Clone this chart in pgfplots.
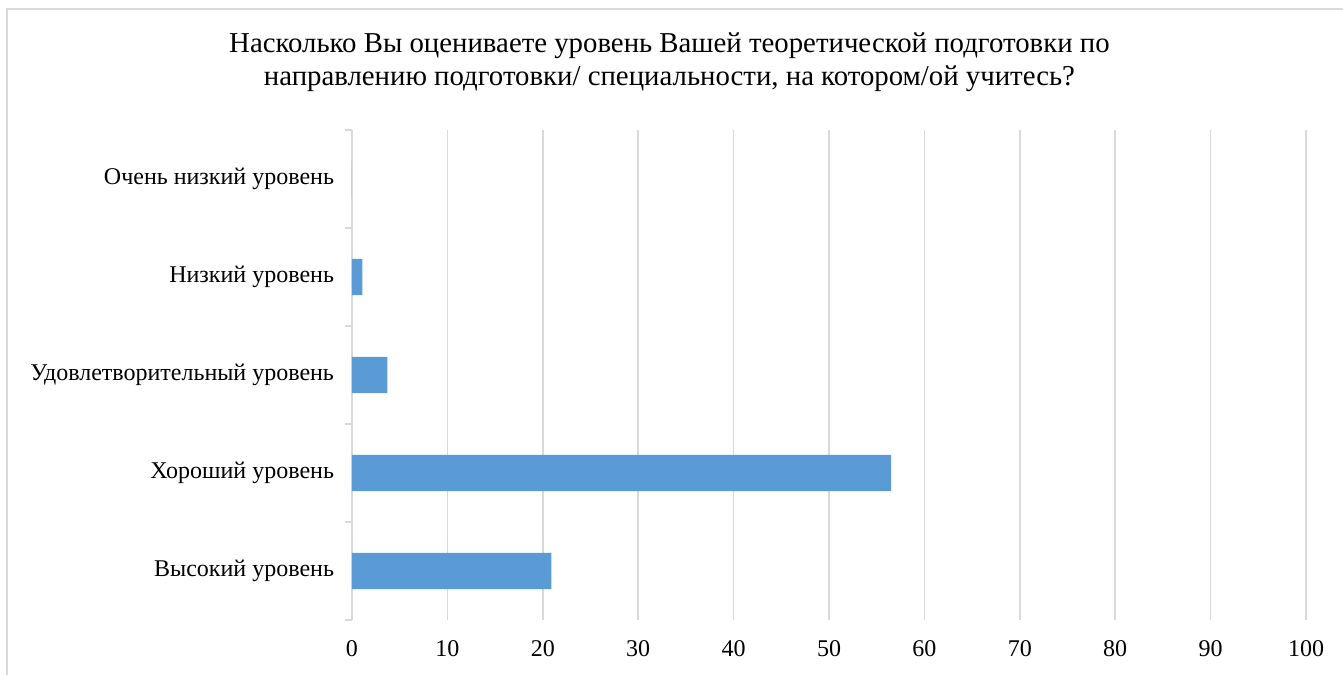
\documentclass[border=0pt]{standalone}
\usepackage{pgfplots}
\pgfplotsset{compat=1.18}
\usepackage{fontspec}
\setmainfont{Liberation Serif}
\definecolor{barblue}{HTML}{5B9BD5}
\definecolor{gridgray}{HTML}{D9D9D9}
\begin{document}
\begin{tikzpicture}
\useasboundingbox (0,0) rectangle (1007.25pt,506.25pt);
\fill[white] (0,0) rectangle (1007.25pt,506.25pt);
\draw[gridgray, line width=1.5pt] (5.25pt,0) -- (5.25pt,499.5pt) -- (1007.25pt,499.5pt);
\node[align=center, font=\fontsize{21.6}{25}\selectfont] at (502.1pt,459.4pt) {Насколько Вы оцениваете уровень Вашей теоретической подготовки по\\направлению подготовки/ специальности, на котором/ой учитесь?};
\begin{axis}[
  at={(264pt,41.25pt)}, anchor=south west,
  scale only axis,
  width=715.5pt, height=367.5pt,
  xmin=0, xmax=100,
  ymin=-0.5, ymax=4.5,
  xtick={0,10,...,100},
  ytick={0,1,2,3,4},
  yticklabels={Высокий уровень, Хороший уровень, Удовлетворительный уровень, Низкий уровень, Очень низкий уровень},
  minor ytick={-0.5,0.5,...,4.5},
  xmajorgrids, grid style={gridgray, line width=1.2pt},
  axis lines*=left,
  x axis line style={draw=none},
  y axis line style={gridgray, line width=1.2pt, -},
  tick align=outside,
  major tick style={draw=none},
  minor y tick style={gridgray, line width=1.2pt},
  minor tick length=5pt,
  major tick length=0pt,
  tick label style={font=\fontsize{18}{20}\selectfont},
  /pgf/number format/assume math mode=true,
  yticklabel style={xshift=-10pt},
  xticklabel style={yshift=-12pt},
  xbar, bar width=0.37,
  ]
\addplot[fill=barblue, draw=none] coordinates {(20.9,0) (56.5,1) (3.7,2) (1.1,3) (0,4)};
\end{axis}
\end{tikzpicture}
\end{document}
